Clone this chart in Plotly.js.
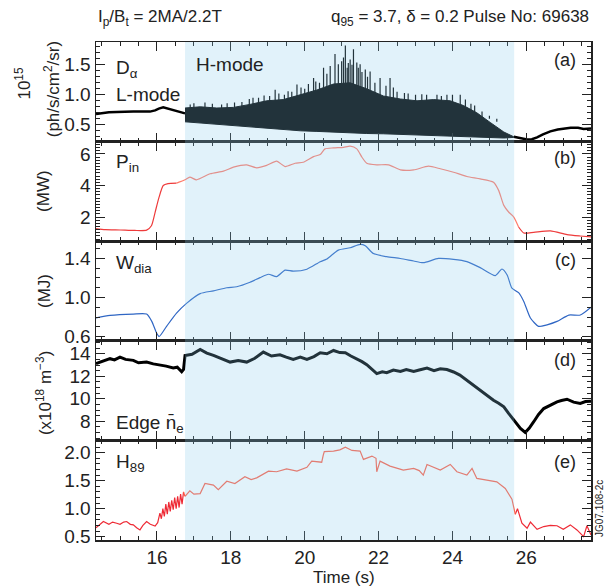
<!DOCTYPE html>
<html><head><meta charset="utf-8">
<script src="https://cdn.plot.ly/plotly-3.0.1.min.js"></script>
<style>html,body{margin:0;padding:0;background:#fff}</style>
</head><body><div id="chart" style="width:606px;height:588px"></div>
<script>
// ---- Panel (a) D-alpha ----
const daPreT = [14.35, 14.46, 14.7, 14.91, 15.1, 15.36, 15.6, 15.81, 15.95, 16.05, 16.17, 16.3, 16.44, 16.6, 16.76];
const daPreV = [0.68, 0.69, 0.71, 0.715, 0.72, 0.72, 0.72, 0.72, 0.74, 0.77, 0.79, 0.77, 0.75, 0.72, 0.69];
const daBandT = [16.76, 17.17, 17.62, 18.07, 18.52, 18.97, 19.42, 19.88, 20.33, 20.78, 21.23, 21.68, 22.13, 22.59, 23.04, 23.49, 23.94, 24.3, 24.66, 25.02, 25.39, 25.66];
const daLow  = [0.55, 0.53, 0.51, 0.49, 0.465, 0.445, 0.42, 0.40, 0.39, 0.375, 0.365, 0.355, 0.35, 0.34, 0.33, 0.32, 0.31, 0.30, 0.295, 0.29, 0.28, 0.29];
const daHigh = [0.78, 0.80, 0.78, 0.79, 0.84, 0.90, 0.92, 1.00, 1.08, 1.18, 1.20, 1.10, 0.98, 0.93, 0.90, 0.92, 0.90, 0.82, 0.70, 0.54, 0.38, 0.30];
const spikeT = [16.9, 17.0, 17.3, 17.5, 17.75, 17.9, 18.1, 18.3, 18.5, 18.6, 18.75, 18.9, 19.05, 19.2, 19.3, 19.45, 19.55, 19.65, 19.79, 19.9, 20.0, 20.1, 20.24, 20.3, 20.4, 20.51, 20.6, 20.69, 20.82, 20.91, 21.0, 21.05, 21.1, 21.15, 21.18, 21.23, 21.28, 21.32, 21.41, 21.45, 21.5, 21.55, 21.64, 21.7, 21.77, 21.9, 22.04, 22.2, 22.31, 22.4, 22.5, 22.7, 22.8, 23.0, 23.17, 23.3, 23.58, 23.7, 23.85, 24.0, 24.21, 24.35, 24.5, 24.6, 24.8, 25.0, 25.2];
const spikeV = [0.84, 0.86, 0.87, 0.85, 0.84, 0.86, 0.87, 0.88, 0.93, 0.95, 0.95, 0.99, 0.98, 1.085, 1.02, 1.0, 1.06, 1.05, 1.17, 1.12, 1.1, 1.18, 1.28, 1.22, 1.2, 1.45, 1.35, 1.48, 1.68, 1.51, 1.56, 1.62, 1.82, 1.45, 1.53, 1.59, 1.5, 1.76, 1.54, 1.45, 1.51, 1.38, 1.42, 1.3, 1.39, 1.2, 1.28, 1.15, 1.28, 1.12, 1.05, 1.03, 1.02, 1.0, 1.01, 1.0, 1.0, 0.98, 1.0, 1.0, 1.0, 0.92, 0.85, 0.82, 0.72, 0.65, 0.55];
const daPostT = [25.66, 25.75, 25.9, 26.02, 26.15, 26.29, 26.45, 26.65, 26.85, 27.0, 27.2, 27.4, 27.55, 27.75];
const daPostV = [0.30, 0.29, 0.27, 0.255, 0.26, 0.29, 0.34, 0.39, 0.42, 0.43, 0.45, 0.45, 0.43, 0.44];

// ---- Panel (b) P_in (MW) ----
const pinT = [14.35, 14.6, 15.0, 15.4, 15.72, 15.85, 15.95, 16.05, 16.17, 16.3, 16.53, 16.76, 16.89, 17.07, 17.44, 17.8, 18.07, 18.43, 18.7, 18.97, 19.24, 19.47, 19.74, 19.96, 20.24, 20.42, 20.55, 20.78, 21.05, 21.23, 21.41, 21.55, 21.68, 21.95, 22.27, 22.59, 22.95, 23.35, 23.67, 24.03, 24.39, 24.75, 25.11, 25.25, 25.39, 25.52, 25.66, 25.79, 25.93, 26.2, 26.65, 27.1, 27.45, 27.75];
const pinV = [1.27, 1.2, 1.18, 1.15, 1.17, 1.45, 2.3, 3.2, 4.0, 4.12, 4.15, 4.36, 4.53, 4.36, 4.74, 4.91, 5.16, 5.31, 5.12, 5.27, 5.54, 5.2, 5.41, 5.47, 5.83, 5.96, 6.32, 6.38, 6.42, 6.49, 6.32, 5.79, 5.41, 5.31, 5.31, 4.99, 4.99, 5.22, 5.06, 4.84, 4.57, 4.42, 4.21, 3.69, 2.74, 2.32, 2.0, 1.37, 0.99, 1.03, 1.12, 0.89, 0.8, 0.74];

// ---- Panel (c) W_dia (MJ) ----
const wT = [14.35, 14.73, 15.36, 15.72, 15.86, 15.99, 16.06, 16.26, 16.53, 16.8, 17.17, 17.53, 17.89, 18.16, 18.52, 18.79, 19.02, 19.24, 19.47, 19.69, 20.06, 20.42, 20.6, 20.91, 21.23, 21.5, 21.64, 21.86, 22.22, 22.59, 22.95, 23.21, 23.62, 24.03, 24.39, 24.75, 25.16, 25.34, 25.48, 25.61, 25.79, 25.93, 26.11, 26.33, 26.56, 26.83, 27.15, 27.46, 27.75];
const wV = [0.79, 0.816, 0.83, 0.83, 0.755, 0.636, 0.60, 0.704, 0.84, 0.94, 1.04, 1.068, 1.10, 1.11, 1.156, 1.204, 1.238, 1.214, 1.28, 1.27, 1.29, 1.367, 1.394, 1.486, 1.51, 1.544, 1.53, 1.45, 1.418, 1.40, 1.374, 1.357, 1.40, 1.39, 1.367, 1.306, 1.224, 1.292, 1.23, 1.095, 1.05, 0.96, 0.79, 0.704, 0.72, 0.755, 0.82, 0.82, 0.90];

// ---- Panel (d) edge n_e (1e18 m^-3) ----
const neT = [14.35, 14.5, 14.73, 14.85, 15.0, 15.15, 15.36, 15.5, 15.72, 15.9, 16.08, 16.25, 16.44, 16.55, 16.67, 16.72, 16.76, 16.95, 17.17, 17.35, 17.53, 17.75, 17.98, 18.2, 18.43, 18.65, 18.88, 19.1, 19.33, 19.5, 19.69, 19.88, 20.06, 20.25, 20.42, 20.6, 20.78, 20.95, 21.1, 21.25, 21.41, 21.55, 21.68, 21.82, 21.95, 22.1, 22.22, 22.4, 22.59, 22.75, 22.95, 23.1, 23.31, 23.5, 23.67, 23.85, 24.03, 24.2, 24.39, 24.55, 24.75, 24.95, 25.11, 25.25, 25.39, 25.52, 25.66, 25.84, 25.97, 26.08, 26.2, 26.33, 26.47, 26.65, 26.83, 26.95, 27.1, 27.28, 27.46, 27.6, 27.75];
const neV = [13.12, 13.3, 13.56, 13.45, 13.7, 13.5, 13.41, 13.2, 13.26, 13.1, 13.03, 12.9, 12.73, 12.8, 12.4, 12.6, 13.85, 13.95, 14.38, 14.05, 13.85, 13.55, 13.26, 13.4, 13.26, 13.6, 14.15, 13.8, 13.91, 13.7, 13.5, 13.7, 13.5, 13.75, 14.09, 14.0, 14.29, 14.1, 14.09, 13.8, 13.56, 13.3, 13.03, 12.6, 12.23, 12.4, 12.32, 12.55, 12.43, 12.6, 12.43, 12.55, 12.73, 12.5, 12.67, 12.6, 12.38, 12.1, 11.64, 11.2, 10.75, 10.3, 9.87, 9.6, 9.28, 8.7, 8.1, 7.36, 7.0, 7.4, 7.96, 8.6, 9.13, 9.45, 9.73, 9.85, 9.96, 9.7, 9.58, 9.75, 9.78];

// ---- Panel (e) H89 ----
const hT = [14.35, 14.45, 14.55, 14.7, 14.8, 14.91, 15.0, 15.1, 15.18, 15.28,
            15.36, 15.45, 15.54, 15.62, 15.72, 15.82, 15.95, 16.02, 16.08, 16.12,
            16.16, 16.2, 16.24, 16.28, 16.32, 16.36, 16.4, 16.44, 16.48, 16.52,
            16.56, 16.6, 16.64, 16.68, 16.72, 16.76, 16.89, 17.0, 17.17, 17.3,
            17.53, 17.66, 17.89, 18.11, 18.38, 18.55, 18.7, 18.85, 19.02, 19.24,
            19.51, 19.79, 20.06, 20.19, 20.46, 20.5, 20.53, 20.78, 20.95, 21.1,
            21.28, 21.5, 21.59, 21.82, 21.93, 21.95, 22.04, 22.31, 22.67, 22.95,
            23.1, 23.21, 23.31, 23.67, 23.94, 24.12, 24.39, 24.53, 24.66, 24.93,
            25.2, 25.43, 25.61, 25.7, 25.76, 25.88, 26.02, 26.11, 26.29, 26.47,
            26.65, 26.83, 27.0, 27.19, 27.37, 27.55, 27.64, 27.75];
const hV = [0.66, 0.72, 0.77, 0.72, 0.76, 0.74, 0.72, 0.76, 0.77, 0.72,
            0.71, 0.66, 0.62, 0.70, 0.77, 0.72, 0.69, 0.75, 0.92, 0.82,
            1.00, 0.86, 1.08, 0.90, 1.12, 0.95, 1.15, 0.98, 1.20, 1.00,
            1.22, 1.02, 1.26, 1.08, 1.30, 1.22, 1.32, 1.26, 1.27, 1.45,
            1.42, 1.34, 1.49, 1.45, 1.57, 1.52, 1.55, 1.60, 1.67, 1.66,
            1.71, 1.67, 1.74, 1.85, 1.83, 1.95, 2.02, 2.03, 2.05, 2.10,
            2.04, 2.03, 1.88, 1.94, 1.90, 1.66, 1.85, 1.76, 1.69, 1.72,
            1.68, 1.60, 1.79, 1.69, 1.79, 1.66, 1.60, 1.72, 1.54, 1.51,
            1.48, 1.36, 1.17, 0.90, 1.00, 0.74, 0.65, 0.76, 0.63, 0.68,
            0.70, 0.695, 0.63, 0.71, 0.62, 0.50, 0.695, 0.53];

const hModeStart = 16.76, hModeEnd = 25.67;

// split a series into the part inside the H-mode window (with one neighbour each side) and outside
function splitSeries(t, v) {
  const inT = [], inV = [], outT = [], outV = [];
  let gapAdded = false;
  for (let i = 0; i < t.length; i++) {
    const inside = t[i] >= hModeStart && t[i] <= hModeEnd;
    const nearIn = inside || (t[i + 1] !== undefined && t[i + 1] >= hModeStart && t[i] < hModeStart) ||
                   (t[i - 1] !== undefined && t[i - 1] <= hModeEnd && t[i] > hModeEnd);
    if (nearIn) { inT.push(t[i]); inV.push(v[i]); }
    if (!inside) { outT.push(t[i]); outV.push(v[i]); }
    else if (!gapAdded) { outT.push(t[i]); outV.push(null); gapAdded = true; }
  }
  return {inT, inV, outT, outV};
}
const pinS = splitSeries(pinT, pinV);
const hS = splitSeries(hT, hV);

// spikes as vertical segments
const spX = [], spY = [];
spikeT.forEach((t, i) => { spX.push(t, t, null); spY.push(0.6, spikeV[i], null); });

const traces = [
  {x: daPreT, y: daPreV, xaxis: 'x', yaxis: 'y', mode: 'lines', line: {color: '#000', width: 2.5}},
  {x: daBandT, y: daLow, xaxis: 'x', yaxis: 'y', mode: 'lines', line: {color: '#000', width: 1}},
  {x: daBandT, y: daHigh, xaxis: 'x', yaxis: 'y', mode: 'lines', fill: 'tonexty', fillcolor: '#000', line: {color: '#000', width: 1}},
  {x: spX, y: spY, xaxis: 'x', yaxis: 'y', mode: 'lines', line: {color: '#000', width: 1.2}, connectgaps: false},
  {x: daPostT, y: daPostV, xaxis: 'x', yaxis: 'y', mode: 'lines', line: {color: '#000', width: 2.5}},
  {x: pinS.outT, y: pinS.outV, xaxis: 'x2', yaxis: 'y2', mode: 'lines', connectgaps: false, line: {color: '#ee3b3b', width: 1.2, shape: 'spline', smoothing: 0.6}},
  {x: pinS.inT, y: pinS.inV, xaxis: 'x2', yaxis: 'y2', mode: 'lines', line: {color: '#ff7d6c', width: 1.2, shape: 'spline', smoothing: 0.6}},
  {x: wT, y: wV, xaxis: 'x3', yaxis: 'y3', mode: 'lines', line: {color: '#2f66c4', width: 1.2, shape: 'spline', smoothing: 0.6}},
  {x: neT, y: neV, xaxis: 'x4', yaxis: 'y4', mode: 'lines', line: {color: '#000', width: 3}},
  {x: hS.outT, y: hS.outV, xaxis: 'x5', yaxis: 'y5', mode: 'lines', connectgaps: false, line: {color: '#ee2a35', width: 1.2}},
  {x: hS.inT, y: hS.inV, xaxis: 'x5', yaxis: 'y5', mode: 'lines', line: {color: '#ff634b', width: 1.2}}
];

const FONT = 'Liberation Sans, Arial, Helvetica, sans-serif';
const tickFont = {family: FONT, size: 19, color: '#222'};

function xa(showLabels) {
  return {
    domain: [0, 1], range: [14.35, 27.75], tick0: 16, dtick: 2,
    ticks: 'inside', ticklen: 9, tickwidth: 1, tickcolor: '#222',
    showline: true, linecolor: '#222', linewidth: 1.5, mirror: 'allticks',
    showgrid: false, zeroline: false, showticklabels: showLabels,
    tickfont: tickFont,
    minor: {dtick: 0.5, ticks: 'inside', ticklen: 4, tickcolor: '#222', tickwidth: 1, showgrid: false}
  };
}
function ya(dom, range, tickvals, fmt, minorDt, anchor) {
  return {
    domain: dom, range: range, tickvals: tickvals, tickformat: fmt, anchor: anchor,
    ticks: 'inside', ticklen: 9, tickwidth: 1, tickcolor: '#222',
    showline: true, linecolor: '#222', linewidth: 1.5, mirror: 'allticks',
    showgrid: false, zeroline: false, tickfont: tickFont,
    minor: {dtick: minorDt, ticks: 'inside', ticklen: 4, tickcolor: '#222', tickwidth: 1, showgrid: false}
  };
}

function ann(x, y, text, size, extra) {
  return Object.assign({xref: 'paper', yref: 'paper', x: x, y: y, xanchor: 'center', yanchor: 'middle',
    showarrow: false, text: text, font: {size: size}}, extra || {});
}

const layout = {
  width: 606, height: 588,
  margin: {l: 96, r: 15, t: 42, b: 48},
  paper_bgcolor: '#fff', plot_bgcolor: 'rgba(0,0,0,0)',
  showlegend: false,
  font: {family: FONT, size: 17, color: '#222'},
  xaxis: Object.assign(xa(false), {anchor: 'y'}),
  xaxis2: Object.assign(xa(false), {anchor: 'y2', matches: 'x'}),
  xaxis3: Object.assign(xa(false), {anchor: 'y3', matches: 'x'}),
  xaxis4: Object.assign(xa(false), {anchor: 'y4', matches: 'x'}),
  xaxis5: Object.assign(xa(true), {anchor: 'y5', matches: 'x'}),
  yaxis: ya([0.8, 1], [0.22, 1.88], [0.5, 1.0, 1.5], '.1f', 0.1, 'x'),
  yaxis2: ya([0.6, 0.8], [0.47, 6.78], [2, 4, 6], 'd', 0.2, 'x2'),
  yaxis3: ya([0.4, 0.6], [0.556, 1.577], [0.6, 1.0, 1.4], '.1f', 0.1, 'x3'),
  yaxis4: ya([0.2, 0.4], [6.3, 15.15], [8, 10, 12, 14], 'd', 0.5, 'x4'),
  yaxis5: ya([0, 0.2], [0.44, 2.22], [0.5, 1.0, 1.5, 2.0], '.1f', 0.1, 'x5'),
  shapes: [
    {type: 'rect', xref: 'x', yref: 'paper', x0: hModeStart, x1: hModeEnd, y0: 0, y1: 1,
     fillcolor: 'rgb(136,204,236)', opacity: 0.25, line: {width: 0}, layer: 'above'}
  ],
  annotations: [
    ann(0, 1.048, 'I<sub>p</sub>/B<sub>t</sub> = 2MA/2.2T', 17, {xanchor: 'left'}),
    ann(1.0, 1.048, 'q<sub>95</sub> = 3.7, δ = 0.2 Pulse No: 69638', 17, {xanchor: 'right'}),
    // y titles
    ann(-0.148, 0.918, '10<sup>15</sup>', 17, {textangle: -90}),
    ann(-0.09, 0.906, '(ph/s/cm<sup>2</sup>/sr)', 17, {textangle: -90}),
    ann(-0.105, 0.701, '(MW)', 17, {textangle: -90}),
    ann(-0.105, 0.5, '(MJ)', 17, {textangle: -90}),
    ann(-0.105, 0.295, '(x10<sup>18</sup> m<sup>−3</sup>)', 17, {textangle: -90}),
    // panel letters
    ann(0.974, 0.964, '(a)', 18, {xanchor: 'right'}),
    ann(0.974, 0.767, '(b)', 18, {xanchor: 'right'}),
    ann(0.974, 0.562, '(c)', 18, {xanchor: 'right'}),
    ann(0.974, 0.361, '(d)', 18, {xanchor: 'right'}),
    ann(0.974, 0.157, '(e)', 18, {xanchor: 'right'}),
    // in-panel labels
    ann(0.036, 0.945, 'D<sub>α</sub>', 19, {xanchor: 'left'}),
    ann(0.036, 0.895, 'L-mode', 19, {xanchor: 'left'}),
    ann(0.198, 0.955, 'H-mode', 19, {xanchor: 'left'}),
    ann(0.036, 0.758, 'P<sub>in</sub>', 19, {xanchor: 'left'}),
    ann(0.036, 0.555, 'W<sub>dia</sub>', 19, {xanchor: 'left'}),
    ann(0.036, 0.232, 'Edge n\u0304<sub>e</sub>', 19, {xanchor: 'left'}),
    ann(0.036, 0.155, 'H<sub>89</sub>', 19, {xanchor: 'left'}),
    // x title
    ann(0.5, -0.076, 'Time (s)', 17),
    // figure code
    ann(1.016, 0.064, 'JG07.108-2c', 10, {textangle: -90})
  ]
};

Plotly.newPlot('chart', traces, layout, {displayModeBar: false, staticPlot: true});
</script></body></html>
